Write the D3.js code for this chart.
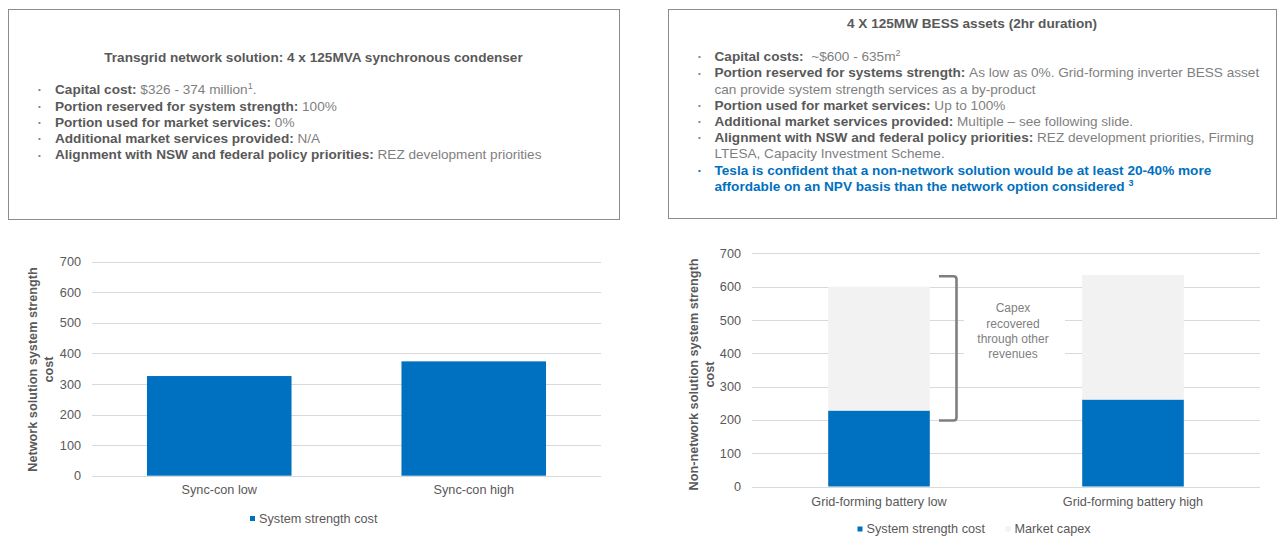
<!DOCTYPE html>
<html>
<head>
<meta charset="utf-8">
<script src="https://cdn.jsdelivr.net/npm/d3@7"></script>
<style>
  html, body { margin: 0; padding: 0; background: #fff; }
  svg { display: block; font-family: "Liberation Sans", Arial, sans-serif; }
</style>
</head>
<body>
<svg id="chart" width="1279" height="537"></svg>
<script>
// ---------- DATA ----------
const yTicks = [0, 100, 200, 300, 400, 500, 600, 700];

const leftCategories = ["Sync-con low", "Sync-con high"];
const leftSystemStrength = [326, 374];

const rightCategories = ["Grid-forming battery low", "Grid-forming battery high"];
const rightSystemStrength = [228, 261];
const rightMarketCapex = [372, 374];

const seriesNames = ["System strength cost", "Market capex"];
const leftAxisTitle = ["Network solution system strength", "cost"];
const rightAxisTitle = ["Non-network solution system strength", "cost"];
const annotationLines = ["Capex", "recovered", "through other", "revenues"];
const bracketRange = [631, 198];

const leftBoxTitle = "Transgrid network solution: 4 x 125MVA synchronous condenser";
const leftBoxLines = [
  [["b", "Capital cost: "], ["r", "$326 - 374 million"], ["s", "1"], ["r", "."]],
  [["b", "Portion reserved for system strength: "], ["r", "100%"]],
  [["b", "Portion used for market services: "], ["r", "0%"]],
  [["b", "Additional market services provided: "], ["r", "N/A"]],
  [["b", "Alignment with NSW and federal policy priorities: "], ["r", "REZ development priorities"]]
];
const rightBoxTitle = "4 X 125MW BESS assets (2hr duration)";
const rightBoxLines = [
  [["b", "Capital costs: "], ["r", " ~$600 - 635m"], ["s", "2"]],
  [["b", "Portion reserved for systems strength: "], ["r", "As low as 0%. Grid-forming inverter BESS asset"]],
  [["c"], ["r", "can provide system strength services as a by-product"]],
  [["b", "Portion used for market services: "], ["r", "Up to 100%"]],
  [["b", "Additional market services provided: "], ["r", "Multiple \u2013 see following slide."]],
  [["b", "Alignment with NSW and federal policy priorities: "], ["r", "REZ development priorities, Firming"]],
  [["c"], ["r", "LTESA, Capacity Investment Scheme."]],
  [["B", "Tesla is confident that a non-network solution would be at least 20-40% more"]],
  [["c"], ["B", "affordable on an NPV basis than the network option considered "], ["S", "3"]]
];

// ---------- STYLE ----------
const BLUE = "#0070C0", LIGHT = "#F2F2F2", GRID = "#D9D9D9";
const DARK = "#595959", MID = "#7F7F7F";
const FS = 12.7;
const BFS = 13.6;

const svg = d3.select("#chart");

// ---------- TEXT BOXES ----------
function textBox(x0, x1, y0, y1, title, titleY, lines, bulletX, textX, firstY, lineH) {
  const g = svg.append("g");
  g.append("rect").attr("x", x0 + 0.5).attr("y", y0 + 0.5)
    .attr("width", x1 - x0).attr("height", y1 - y0)
    .attr("fill", "#fff").attr("stroke", "#8C8C8C").attr("stroke-width", 1);
  g.append("text").attr("x", (x0 + x1) / 2).attr("y", titleY).attr("dy", "0.35em")
    .attr("text-anchor", "middle").attr("font-weight", "bold")
    .attr("font-size", BFS).attr("fill", DARK).text(title);
  lines.forEach((segs, i) => {
    const y = firstY + i * lineH;
    const cont = segs[0][0] === "c";
    const isBlue = segs.some(s => s[0] === "B");
    if (!cont) {
      g.append("text").attr("x", bulletX).attr("y", y).attr("dy", "0.35em")
        .attr("font-size", 8).attr("fill", isBlue ? BLUE : MID).text("\u2022");
    }
    const t = g.append("text").attr("x", textX).attr("y", y).attr("dy", "0.35em")
      .attr("font-size", BFS).attr("xml:space", "preserve").style("white-space", "pre");
    segs.forEach(s => {
      if (s[0] === "c") return;
      const ts = t.append("tspan").text(s[1]);
      if (s[0] === "b") ts.attr("font-weight", "bold").attr("fill", DARK);
      else if (s[0] === "r") ts.attr("fill", MID);
      else if (s[0] === "B") ts.attr("font-weight", "bold").attr("fill", BLUE);
      else if (s[0] === "s") ts.attr("fill", MID).attr("font-size", 9).attr("baseline-shift", "super");
      else if (s[0] === "S") ts.attr("fill", BLUE).attr("font-weight", "bold").attr("font-size", 9).attr("baseline-shift", "super");
    });
  });
}
textBox(8, 619, 9, 219, leftBoxTitle, 57, leftBoxLines, 38, 55, 89.5, 16.3);
textBox(668, 1276, 9, 218, rightBoxTitle, 23, rightBoxLines, 698, 714.5, 56.5, 16.2);

// ---------- CHART HELPERS ----------
function drawAxes(g, x, y, x0, x1) {
  g.append("g").selectAll("line").data(yTicks).join("line")
    .attr("x1", x0).attr("x2", x1)
    .attr("y1", d => Math.round(y(d)) + 0.5).attr("y2", d => Math.round(y(d)) + 0.5)
    .attr("stroke", GRID).attr("stroke-width", 1);
  const ya = g.append("g").attr("transform", `translate(${x0 - 11},0)`)
    .call(d3.axisLeft(y).tickValues(yTicks).tickSize(0).tickPadding(0));
  ya.select(".domain").remove();
  ya.selectAll("text").attr("font-size", FS).attr("fill", DARK).attr("font-family", null);
}
function drawXLabels(g, x, cats, yPos) {
  const xa = g.append("g").attr("transform", `translate(0,${yPos})`)
    .call(d3.axisBottom(x).tickSize(0).tickPadding(0));
  xa.select(".domain").remove();
  xa.selectAll("text").attr("font-size", FS).attr("fill", DARK).attr("font-family", null)
    .attr("dy", "0.35em");
}
function drawYTitle(g, lines, cx, cy) {
  lines.forEach((l, i) => {
    g.append("text")
      .attr("transform", `translate(${cx + i * 16},${cy}) rotate(-90)`)
      .attr("text-anchor", "middle").attr("dy", "0.35em")
      .attr("font-size", FS).attr("font-weight", "bold").attr("fill", DARK).text(l);
  });
}
function legendItem(g, xPos, yPos, color, label) {
  g.append("rect").attr("x", xPos).attr("y", yPos - 2.5).attr("width", 5).attr("height", 5).attr("fill", color);
  g.append("text").attr("x", xPos + 9).attr("y", yPos).attr("dy", "0.35em")
    .attr("font-size", FS).attr("fill", DARK).text(label);
}

// ---------- LEFT CHART ----------
{
  const g = svg.append("g");
  const x0 = 92, x1 = 601;
  const x = d3.scaleBand().domain(leftCategories).range([x0, x1]).paddingInner(0.432).paddingOuter(0.216);
  const y = d3.scaleLinear().domain([0, 700]).range([475.7, 261.7]);
  drawAxes(g, x, y, x0, x1);
  g.append("g").selectAll("rect").data(leftCategories).join("rect")
    .attr("x", d => x(d)).attr("width", x.bandwidth())
    .attr("y", (d, i) => y(leftSystemStrength[i]))
    .attr("height", (d, i) => y(0) - y(leftSystemStrength[i]))
    .attr("fill", BLUE);
  drawXLabels(g, x, leftCategories, 490);
  drawYTitle(g, leftAxisTitle, 33, 369.5);
  legendItem(g, 250, 518.5, BLUE, seriesNames[0]);
}

// ---------- RIGHT CHART ----------
{
  const g = svg.append("g");
  const x0 = 752, x1 = 1260;
  const x = d3.scaleBand().domain(rightCategories).range([x0, x1]).paddingInner(0.6).paddingOuter(0.3);
  const y = d3.scaleLinear().domain([0, 700]).range([486.5, 253.3]);
  drawAxes(g, x, y, x0, x1);

  const rows = rightCategories.map((c, i) => ({ cat: c, ss: rightSystemStrength[i], mc: rightMarketCapex[i] }));
  const stack = d3.stack().keys(["ss", "mc"])(rows);
  const colors = [BLUE, LIGHT];
  g.append("g").selectAll("g").data(stack).join("g").attr("fill", (d, i) => colors[i])
    .selectAll("rect").data(d => d).join("rect")
    .attr("x", d => x(d.data.cat)).attr("width", x.bandwidth())
    .attr("y", d => y(d[1])).attr("height", d => y(d[0]) - y(d[1]));

  // annotation box & text
  const ann = g.append("g");
  ann.append("rect").attr("x", 964).attr("y", y(560)).attr("width", 101).attr("height", y(330) - y(560)).attr("fill", "#fff");
  annotationLines.forEach((l, i) => {
    ann.append("text").attr("x", 1013).attr("y", 308 + i * 15.4).attr("dy", "0.35em")
      .attr("text-anchor", "middle").attr("font-size", 12).attr("fill", MID).text(l);
  });
  // bracket
  const bx0 = 939, bx1 = 956.5, r = 3;
  const yt = y(bracketRange[0]), yb = y(bracketRange[1]);
  const p = d3.path();
  p.moveTo(bx0, yt);
  p.lineTo(bx1 - r, yt);
  p.quadraticCurveTo(bx1, yt, bx1, yt + r);
  p.lineTo(bx1, yb - r);
  p.quadraticCurveTo(bx1, yb, bx1 - r, yb);
  p.lineTo(bx0, yb);
  g.append("path").attr("d", p.toString()).attr("fill", "none")
    .attr("stroke", "#7F7F7F").attr("stroke-width", 2.6);

  drawXLabels(g, x, rightCategories, 501.7);
  drawYTitle(g, rightAxisTitle, 693.3, 374.5);
  legendItem(g, 857.5, 529, BLUE, seriesNames[0]);
  legendItem(g, 1005.5, 529, LIGHT, seriesNames[1]);
}
</script>
</body>
</html>
